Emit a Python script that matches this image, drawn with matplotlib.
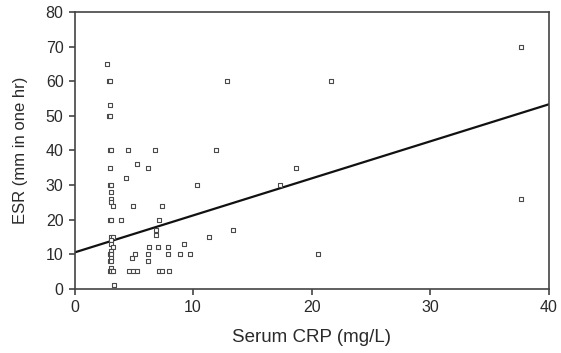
import matplotlib.pyplot as plt
import numpy as np

# serum CRP (mg/L) vs ESR (mm in one hr)
crp = [2.7, 2.9, 3.0, 3.0, 2.9, 3.0, 3.0, 3.1, 3.0, 3.0, 3.1, 3.1, 3.1, 3.1,
       3.2, 3.0, 3.1, 3.1, 3.2, 3.1, 3.1, 3.2, 3.1, 3.0, 3.1, 3.1, 3.0, 3.1,
       3.1, 3.0, 3.1, 3.2, 3.3,
       3.9, 4.3, 4.5, 4.9, 5.3, 6.2, 6.75, 7.4, 7.1, 6.9, 6.9, 11.3, 13.4,
       6.3, 7.0, 7.9, 9.2, 5.1, 4.85, 6.2, 7.9, 8.9, 9.7, 6.2, 4.55, 4.9,
       5.3, 7.1, 7.4, 8.0, 10.3, 11.9, 12.9, 17.3, 18.7, 20.5, 21.6, 37.7,
       37.7]
esr = [65, 60, 60, 53, 50, 50, 40, 40, 35, 30, 30, 28, 26, 25,
       24, 20, 20, 15, 15, 14, 13, 12, 11, 10, 10, 9, 8, 8,
       6, 5, 5, 5, 1,
       20, 32, 40, 24, 36, 35, 40, 24, 20, 17, 15.5, 15, 17,
       12, 12, 12, 13, 10, 9, 10, 10, 10, 10, 8, 5, 5,
       5, 5, 5, 5, 30, 40, 60, 30, 35, 10, 60, 70,
       26]

# regression line as printed
fit_intercept = 10.5
fit_slope = 1.07

x_ticks = [0, 10, 20, 30, 40]
y_ticks = [0, 10, 20, 30, 40, 50, 60, 70, 80]

plt.rcParams['font.family'] = ['Liberation Sans', 'DejaVu Sans']
ink = '#2a2a2a'

fig = plt.figure(figsize=(5.61, 3.53), dpi=100)
ax = fig.add_axes([0.133, 0.182, 0.845, 0.784])

ax.scatter(crp, esr, marker='s', s=10, facecolors='white',
           edgecolors='#4a4a4a', linewidths=0.8, zorder=3)

xs = np.array([0, 40])
ax.plot(xs, fit_intercept + fit_slope * xs, color='#111111', linewidth=1.6, zorder=2)

ax.set_xlim(0, 40)
ax.set_ylim(0, 80)
ax.set_xticks(x_ticks)
ax.set_yticks(y_ticks)
ax.tick_params(direction='out', length=4, width=1.2, colors='#444444',
               labelcolor=ink, labelsize=11.5, pad=4)
for s in ax.spines.values():
    s.set_color('#444444')
    s.set_linewidth(1.2)

ax.set_xlabel('Serum CRP (mg/L)', fontsize=13.5, color=ink, labelpad=10)
ax.set_ylabel('ESR (mm in one hr)', fontsize=12, color=ink, labelpad=13)

fig.savefig('out.png', dpi=100)
